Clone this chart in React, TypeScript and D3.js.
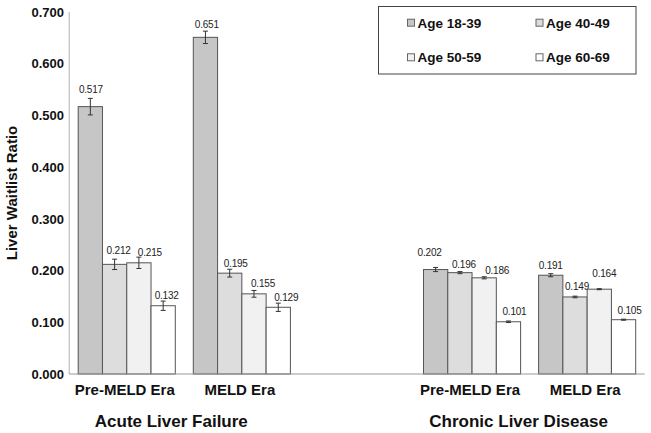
import React from "react";
import * as d3 from "d3";

const slots = ["ALF-Pre", "ALF-MELD", "gap", "CLD-Pre", "CLD-MELD"];
const categorySlots = ["ALF-Pre", "ALF-MELD", "CLD-Pre", "CLD-MELD"];
const categories = ["Pre-MELD Era", "MELD Era", "Pre-MELD Era", "MELD Era"];
const groups = ["Acute Liver Failure", "Chronic Liver Disease"];
const ages = ["Age 18-39", "Age 40-49", "Age 50-59", "Age 60-69"];

const age1839 = [0.517, 0.651, 0.202, 0.191];
const age4049 = [0.212, 0.195, 0.196, 0.149];
const age5059 = [0.215, 0.155, 0.186, 0.164];
const age6069 = [0.132, 0.129, 0.101, 0.105];

const err1839 = [0.016, 0.012, 0.004, 0.003];
const err4049 = [0.01, 0.0075, 0.002, 0.0015];
const err5059 = [0.011, 0.0065, 0.002, 0.001];
const err6069 = [0.009, 0.008, 0.0015, 0.001];

const yTicks = [0, 0.1, 0.2, 0.3, 0.4, 0.5, 0.6, 0.7];

// label nudges (px) to mimic reference placement
const labelDx = [
  [0.6, 1.4, -6, 0],
  [4, 6, 4, 2],
  [11, 9, 13, 5],
  [3.5, 8, 6, 6],
];
const labelDy = [
  [-9.3, -7, -15, -8],
  [-8.6, -6, -7, -10],
  [-5, -6.7, -6, -15],
  [-5.6, -6, -9, -9],
];

const fills = ["#c6c6c6", "#dddddd", "#f1f1f1", "#ffffff"];

export default function App() {
  const W = 651;
  const H = 433;
  const left = 69.2;
  const right = 644.7;
  const top = 12;
  const bottom = 374;

  const values = [age1839, age4049, age5059, age6069];
  const errs = [err1839, err4049, err5059, err6069];

  const x0 = d3.scaleBand<string>().domain(slots).range([left, right]).padding(0);
  const x1 = d3.scaleBand<string>().domain(ages).range([9, x0.bandwidth() - 9]).padding(0);
  const y = d3.scaleLinear().domain([0, 0.7]).range([bottom, top]);
  const fmt = d3.format(".3f");
  const font = "Liberation Sans, Arial, sans-serif";

  const groupCenters = [
    (x0(categorySlots[0])! + x0(categorySlots[1])! + x0.bandwidth()) / 2 - 13,
    (x0(categorySlots[2])! + x0(categorySlots[3])! + x0.bandwidth()) / 2 - 11,
  ];

  return (
    <svg width={W} height={H} style={{ position: "absolute", left: 0, top: 0, background: "#fff" }} fontFamily={font}>
      <rect x={0} y={0} width={W} height={H} fill="#fff" />
      {/* axes */}
      <line x1={left} x2={left} y1={top} y2={bottom} stroke="#b0b0b0" strokeWidth={1} />
      {yTicks.map((t) => (
        <text key={t} x={64} y={y(t)} dy="0.36em" textAnchor="end" fontSize={13} fontWeight="bold" fill="#111">
          {fmt(t)}
        </text>
      ))}
      <text
        transform={`translate(17,193) rotate(-90)`}
        textAnchor="middle"
        fontSize={15}
        fontWeight="bold"
        fill="#111"
      >
        Liver Waitlist Ratio
      </text>

      {/* bars */}
      {categorySlots.map((slot, ci) => (
        <g key={slot} transform={`translate(${x0(slot)},0)`}>
          {ages.map((a, si) => {
            const v = values[si][ci];
            const e = errs[si][ci];
            const bx = x1(a)!;
            const bw = x1.bandwidth();
            const cx = bx + bw / 2;
            return (
              <g key={a}>
                <rect x={bx} y={y(v)} width={bw} height={y(0) - y(v)} fill={fills[si]} stroke="#555" strokeWidth={1} />
                <line x1={cx} x2={cx} y1={y(v + e)} y2={y(v - e)} stroke="#333" strokeWidth={1} />
                <line x1={cx - 2.5} x2={cx + 2.5} y1={y(v + e)} y2={y(v + e)} stroke="#333" strokeWidth={1} />
                <line x1={cx - 2.5} x2={cx + 2.5} y1={y(v - e)} y2={y(v - e)} stroke="#333" strokeWidth={1} />
                <text
                  x={cx + labelDx[si][ci]}
                  y={y(v + e) + labelDy[si][ci]}
                  dy="0.35em"
                  textAnchor="middle"
                  fontSize={10}
                  letterSpacing={-0.2}
                  fill="#222"
                >
                  {fmt(v)}
                </text>
              </g>
            );
          })}
          <text
            x={x0.bandwidth() / 2 - 2}
            y={395}
            textAnchor="middle"
            fontSize={15}
            fontWeight="bold"
            fill="#111"
          >
            {categories[ci]}
          </text>
        </g>
      ))}
      <line x1={left} x2={right} y1={bottom} y2={bottom} stroke="#999" strokeWidth={1} />

      {groups.map((g, i) => (
        <text key={g} x={groupCenters[i]} y={427} textAnchor="middle" fontSize={17} fontWeight="bold" fill="#111">
          {g}
        </text>
      ))}

      {/* legend */}
      <rect x={378.5} y={6.5} width={257.5} height={67.5} fill="#fff" stroke="#444" strokeWidth={1} />
      {ages.map((a, i) => {
        const col = i % 2;
        const row = Math.floor(i / 2);
        const lx = 407.5 + col * 128.5;
        const ly = 22.7 + row * 34.6;
        return (
          <g key={a}>
            <rect x={lx} y={ly - 3.5} width={7} height={7} fill={fills[i]} stroke="#666" strokeWidth={1} />
            <text x={lx + 10} y={ly} dy="0.36em" fontSize={13.5} fontWeight="bold" fill="#111">
              {a}
            </text>
          </g>
        );
      })}
    </svg>
  );
}
